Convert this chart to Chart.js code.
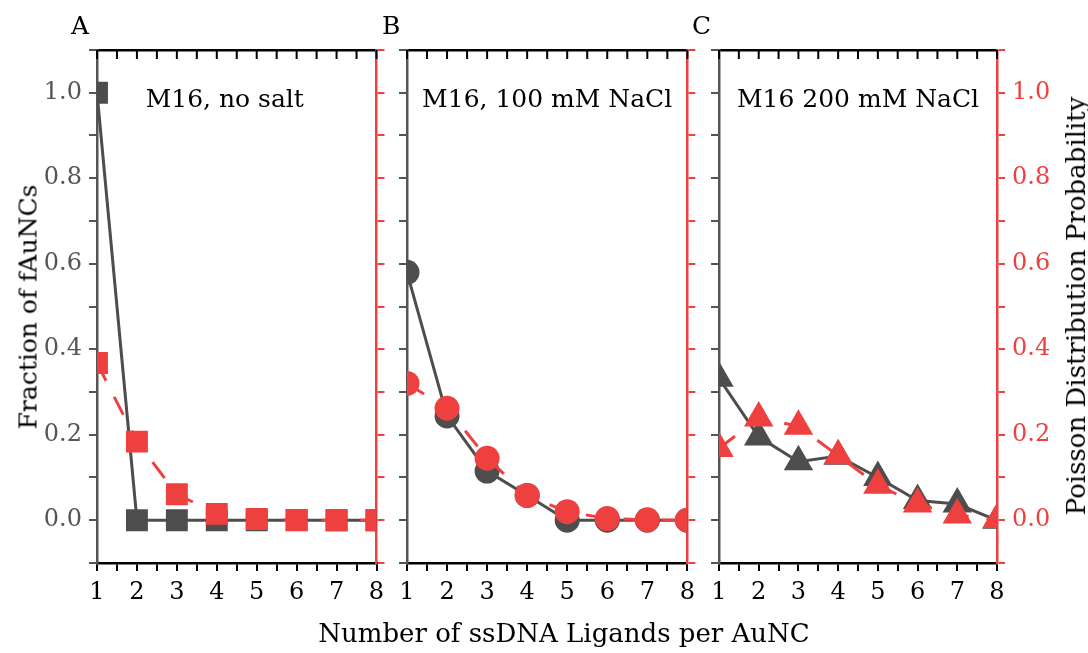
<!DOCTYPE html>
<html>
<head>
<meta charset="utf-8">
<title>ssDNA ligands per AuNC</title>
<script src="https://cdn.jsdelivr.net/npm/chart.js@4.4.1/dist/chart.umd.min.js"></script>
<style>
  body { margin: 0; background: #fff; }
  #wrap { position: relative; width: 1088px; height: 653px; overflow: hidden; font-family: "DejaVu Serif", serif; }
  canvas { position: absolute; top: 0; }
  .txt { position: absolute; font-size: 25px; line-height: 1; color: #000; white-space: nowrap; }
  .vert { transform: translate(-50%, -50%) rotate(-90deg); }
</style>
</head>
<body>
<div id="wrap">
  <canvas id="panelA" width="392" height="653" style="left:0px"></canvas>
  <canvas id="panelB" width="310" height="653" style="left:392px"></canvas>
  <canvas id="panelC" width="386" height="653" style="left:702px"></canvas>
  <div class="txt" style="left:71px; top:13px">A</div>
  <div class="txt" style="left:382px; top:13px">B</div>
  <div class="txt" style="left:692px; top:13px">C</div>
  <div class="txt vert" style="left:28px; top:307px; font-size:25px">Fraction of fAuNCs</div>
  <div class="txt vert" style="left:1076px; top:306px; font-size:26px">Poisson Distribution Probability</div>
  <div class="txt" style="left:564px; top:620px; font-size:26px; transform:translateX(-50%)">Number of ssDNA Ligands per AuNC</div>
</div>
<script>
// ligand count on the x axis, shared by all panels
const ligands = [1, 2, 3, 4, 5, 6, 7, 8];

// measured fraction of fAuNCs (left axis) and Poisson probability (right axis)
const noSaltMeasured = [1.0, 0, 0, 0, 0, 0, 0, 0];
const noSaltPoisson = [0.368, 0.184, 0.061, 0.015, 0.003, 0.0005, 0.0001, 0];
const salt100Measured = [0.58, 0.244, 0.115, 0.058, 0, 0, 0, 0];
const salt100Poisson = [0.32, 0.262, 0.145, 0.058, 0.02, 0.004, 0.001, 0];
const salt200Measured = [0.332, 0.195, 0.137, 0.15, 0.1, 0.046, 0.038, 0.0];
const salt200Poisson = [0.168, 0.239, 0.22, 0.151, 0.082, 0.038, 0.012, 0.002];

const panelNotes = ['M16, no salt', 'M16, 100 mM NaCl', 'M16 200 mM NaCl'];
const yRange = [-0.1, 1.1];
const xRange = [1, 8];

const GRAY = '#4d4d4d';
const AXIS_GRAY = '#555555';
const RED = '#ef4040';
const FONT = '"DejaVu Serif", serif';

// label every other 0.1 step on the value axes
function evenTenths(v) {
  const k = Math.round(v * 10);
  return (k >= 0 && k % 2 === 0) ? (k / 10).toFixed(1) : '';
}

// centred condition label near the top of each plot area
const panelNote = {
  id: 'panelNote',
  afterDatasetsDraw(chart, args, opts) {
    const { ctx, chartArea } = chart;
    ctx.save();
    ctx.font = '25px ' + FONT;
    ctx.fillStyle = '#000';
    ctx.textAlign = 'center';
    ctx.textBaseline = 'middle';
    ctx.fillText(opts.text, (chartArea.left + chartArea.right) / 2 + (opts.dx || 0), chartArea.top + 50);
    ctx.restore();
  }
};

// inward-pointing ticks along the top frame edge
const topTicks = {
  id: 'topTicks',
  beforeDatasetsDraw(chart) {
    const s = chart.scales.xTop;
    const ctx = chart.ctx;
    ctx.save();
    ctx.strokeStyle = '#000';
    ctx.lineWidth = 2;
    ctx.beginPath();
    s.ticks.forEach(t => {
      const x = s.getPixelForValue(t.value);
      ctx.moveTo(x, s.bottom);
      ctx.lineTo(x, s.bottom + 9);
    });
    ctx.stroke();
    ctx.restore();
  }
};

function yAxis(position, color, labelColor, showLabels, width) {
  return {
    type: 'linear',
    position: position,
    min: yRange[0],
    max: yRange[1],
    ticks: {
      stepSize: 0.1,
      autoSkip: false,
      display: showLabels,
      color: labelColor,
      padding: 7,
      font: { family: FONT, size: 24 },
      callback: evenTenths
    },
    grid: { drawOnChartArea: false, drawTicks: true, tickLength: 8, color: color, lineWidth: 2 },
    border: { color: color, width: 2.5 },
    afterFit: s => { s.width = width; }
  };
}

function xAxes() {
  return {
    x: {
      type: 'linear',
      position: 'bottom',
      min: xRange[0],
      max: xRange[1],
      ticks: {
        stepSize: 0.5,
        autoSkip: false,
        maxRotation: 0,
        color: '#000',
        padding: 7,
        font: { family: FONT, size: 24 },
        callback: v => Number.isInteger(v) ? String(v) : ''
      },
      grid: { drawOnChartArea: false, tickLength: 8, color: '#000', lineWidth: 2 },
      border: { color: '#000', width: 2.5 },
      afterFit: s => { s.height = 90; }
    },
    xTop: {
      type: 'linear',
      position: 'top',
      min: xRange[0],
      max: xRange[1],
      ticks: { stepSize: 0.5, autoSkip: false, display: false },
      grid: { drawOnChartArea: false, drawTicks: false },
      border: { color: '#000', width: 2.5 },
      afterFit: s => { s.height = 50; }
    }
  };
}

function points(values) {
  return ligands.map((n, i) => ({ x: n, y: values[i] }));
}

function makePanel(canvasId, measured, poisson, marker, radius, note, noteDx, left, right) {
  const scales = xAxes();
  scales.y = yAxis('left', AXIS_GRAY, '#555', left.labels, left.width);
  scales.y2 = yAxis('right', RED, RED, right.labels, right.width);
  return new Chart(document.getElementById(canvasId), {
    type: 'line',
    data: {
      datasets: [
        {
          label: 'Poisson distribution',
          data: points(poisson),
          yAxisID: 'y2',
          borderColor: RED,
          borderWidth: 3,
          borderDash: [20, 18],
          pointStyle: marker,
          pointRadius: radius,
          pointBackgroundColor: RED,
          pointBorderWidth: 0,
          clip: 0
        },
        {
          label: 'Fraction of fAuNCs',
          data: points(measured),
          yAxisID: 'y',
          borderColor: GRAY,
          borderWidth: 3,
          pointStyle: marker,
          pointRadius: radius,
          pointBackgroundColor: GRAY,
          pointBorderWidth: 0,
          clip: 0
        }
      ]
    },
    options: {
      responsive: false,
      animation: false,
      events: [],
      layout: { padding: 0 },
      scales: scales,
      plugins: {
        legend: { display: false },
        tooltip: { enabled: false },
        panelNote: { text: note, dx: noteDx }
      }
    },
    plugins: [topTicks, panelNote]
  });
}

makePanel('panelA', noSaltMeasured, noSaltPoisson, 'rect', 15.5, panelNotes[0], -12,
  { labels: true, width: 97 }, { labels: false, width: 14 });

makePanel('panelB', salt100Measured, salt100Poisson, 'circle', 12.5, panelNotes[1], 0,
  { labels: false, width: 15 }, { labels: false, width: 14 });

makePanel('panelC', salt200Measured, salt200Poisson, 'triangle', 17, panelNotes[2], 0,
  { labels: false, width: 15 }, { labels: true, width: 91 });
</script>
</body>
</html>
